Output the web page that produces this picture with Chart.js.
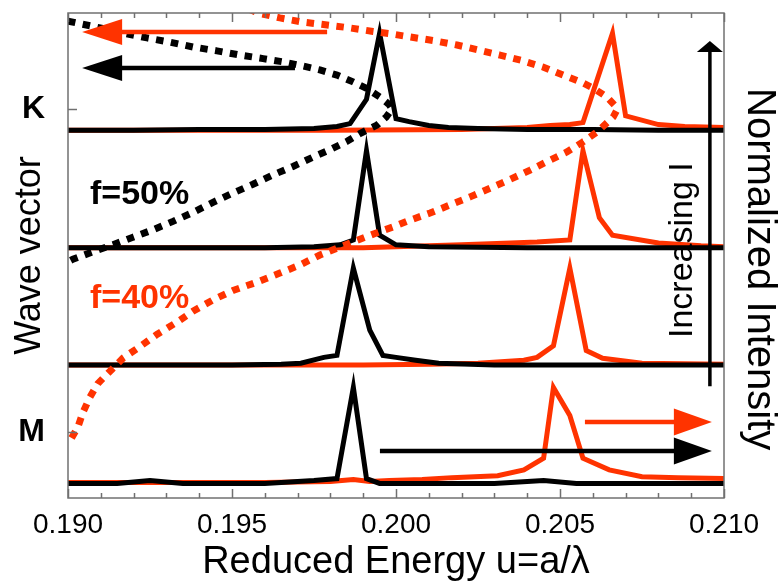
<!DOCTYPE html>
<html><head><meta charset="utf-8">
<script src="https://cdn.jsdelivr.net/npm/chart.js@4.4.1/dist/chart.umd.min.js"></script>
<style>html,body{margin:0;padding:0;background:#fff}#wrap{width:780px;height:581px}</style>
</head><body><div id="wrap"><canvas id="c" width="780" height="581"></canvas></div>
<script>
const FONT = "'Liberation Sans', Arial, Helvetica, sans-serif";
const RED = 'rgb(255,51,0)';

// x axis
const xMin = 0.190, xMax = 0.210, xMajorStep = 0.005, xMinorStep = 0.001;
// wave-vector axis ticks
const kTickValues = [0, 1];
const kTickLabels = ['M', 'K'];

// vertical offset of each spectrum (bottom M panel -> top K panel)
const panelNames = ['M', 'P3', 'P2', 'K'];
const panelOffsets = [0.15, 1.37, 2.58, 3.79];

// Spectra: [reduced energy, normalized intensity]
const blackK = [[0.1900,0.00],[0.1920,0.00],[0.1940,0.01],[0.1960,0.01],[0.1975,0.02],[0.1982,0.04],[0.1986,0.07],[0.1991,0.32],[0.1995,1.00],[0.2000,0.12],[0.2004,0.09],[0.2010,0.05],[0.2016,0.03],[0.2025,0.02],[0.2040,0.01],[0.2060,0.01],[0.2080,0.00],[0.2100,0.00]];
const redK = [[0.1900,0.00],[0.1980,0.00],[0.2020,0.01],[0.2040,0.03],[0.2047,0.05],[0.2053,0.06],[0.2057,0.08],[0.2066,1.00],[0.2070,0.15],[0.2080,0.06],[0.2088,0.04],[0.2100,0.03]];
const blackP2 = [[0.1900,0.00],[0.1960,0.00],[0.1975,0.01],[0.1983,0.03],[0.1987,0.08],[0.1991,1.00],[0.1995,0.13],[0.2000,0.03],[0.2010,0.01],[0.2040,0.00],[0.2100,0.00]];
const redP2 = [[0.1900,0.00],[0.1990,0.00],[0.2000,0.01],[0.2020,0.03],[0.2035,0.05],[0.2043,0.06],[0.2053,0.08],[0.2057,1.00],[0.2062,0.31],[0.2066,0.13],[0.2080,0.05],[0.2093,0.02],[0.2100,0.01]];
const blackP3 = [[0.1900,0.00],[0.1950,0.00],[0.1965,0.01],[0.1971,0.02],[0.1978,0.08],[0.1982,0.10],[0.1987,1.00],[0.1992,0.36],[0.1996,0.10],[0.2000,0.08],[0.2006,0.05],[0.2013,0.02],[0.2030,0.00],[0.2100,0.00]];
const redP3 = [[0.1900,0.00],[0.1990,0.00],[0.2010,0.01],[0.2025,0.02],[0.2039,0.05],[0.2043,0.08],[0.2048,0.20],[0.2053,1.00],[0.2058,0.15],[0.2063,0.07],[0.2075,0.02],[0.2100,0.01]];
const blackM = [[0.1900,0.00],[0.1915,0.00],[0.1925,0.03],[0.1935,0.00],[0.1960,0.00],[0.1975,0.03],[0.1982,0.05],[0.1987,0.99],[0.1991,0.05],[0.1995,0.00],[0.2010,0.00],[0.2030,0.00],[0.2045,0.03],[0.2055,0.00],[0.2100,0.00]];
const redM = [[0.1900,0.01],[0.1960,0.01],[0.1980,0.02],[0.1987,0.04],[0.1992,0.02],[0.1998,0.03],[0.2008,0.04],[0.2017,0.06],[0.2031,0.08],[0.2039,0.14],[0.2045,0.26],[0.2048,0.99],[0.2053,0.70],[0.2057,0.26],[0.2065,0.14],[0.2075,0.07],[0.2086,0.06],[0.2100,0.05]];

// Dispersion (band) curves: [reduced energy, wave vector (M=0, K=1)]
const band50 = [[0.19000,1.272],[0.19098,1.251],[0.19168,1.235],[0.19241,1.220],[0.19311,1.207],[0.19381,1.192],[0.19454,1.180],[0.19524,1.167],[0.19595,1.156],[0.19655,1.146],[0.19713,1.134],[0.19768,1.121],[0.19820,1.105],[0.19869,1.084],[0.19912,1.063],[0.19951,1.037],[0.19978,1.015],[0.19988,1.000],[0.19970,0.975],[0.19942,0.950],[0.19890,0.924],[0.19851,0.900],[0.19799,0.874],[0.19747,0.851],[0.19686,0.822],[0.19625,0.796],[0.19564,0.767],[0.19503,0.740],[0.19442,0.711],[0.19381,0.680],[0.19320,0.652],[0.19259,0.626],[0.19198,0.603],[0.19137,0.580],[0.19076,0.558],[0.19015,0.535],[0.19000,0.527]];
const band40 = [[0.19550,1.310],[0.19579,1.297],[0.19646,1.282],[0.19716,1.269],[0.19790,1.260],[0.19860,1.251],[0.19930,1.240],[0.19982,1.233],[0.20043,1.223],[0.20113,1.212],[0.20186,1.198],[0.20250,1.183],[0.20317,1.167],[0.20384,1.150],[0.20448,1.130],[0.20509,1.105],[0.20567,1.082],[0.20601,1.065],[0.20643,1.037],[0.20668,1.010],[0.20675,1.000],[0.20662,0.975],[0.20646,0.960],[0.20613,0.929],[0.20570,0.898],[0.20521,0.867],[0.20470,0.842],[0.20409,0.811],[0.20348,0.782],[0.20287,0.755],[0.20226,0.728],[0.20165,0.703],[0.20104,0.678],[0.20043,0.656],[0.19991,0.635],[0.19942,0.617],[0.19860,0.585],[0.19768,0.548],[0.19707,0.517],[0.19646,0.492],[0.19576,0.464],[0.19503,0.438],[0.19442,0.409],[0.19381,0.374],[0.19332,0.340],[0.19271,0.302],[0.19220,0.265],[0.19168,0.229],[0.19128,0.188],[0.19091,0.150],[0.19067,0.108],[0.19046,0.062],[0.19030,0.015],[0.19010,-0.020]];

// Annotations (energy, wave-vector coordinates)
const arrows = [
  {from:[0.19790,1.2385], to:[0.19043,1.2385], color:RED, w:4.5, head:40, half:13},
  {from:[0.19692,1.127],  to:[0.19043,1.127],  color:'#000', w:4.5, head:40, half:13},
  {from:[0.20576,0.031],  to:[0.20963,0.031],  color:RED, w:4.5, head:38, half:13.5},
  {from:[0.19951,-0.059], to:[0.20963,-0.059], color:'#000', w:4.5, head:38, half:13.5},
  {from:[0.20957,0.142],  to:[0.20957,1.2105], color:'#000', w:3.5, head:11, half:13}
];
const labels = [
  {text:'f=50%', at:[0.19067,0.706], color:'#000', size:34, bold:true, rot:0, align:'left', base:'alphabetic'},
  {text:'f=40%', at:[0.19067,0.384], color:RED, size:34, bold:true, rot:0, align:'left', base:'alphabetic'},
  {text:'Increasing I', at:[0.20875,0.563], color:'#000', size:34, bold:false, rot:-Math.PI/2, align:'center', base:'middle'}
];
const rightTitle = {text:'Normalized Intensity', size:40, x:748, y:88};

const pts = (arr, off) => arr.map(p => ({x:p[0], y:p[1] + off}));
const kpts = arr => arr.map(p => ({x:p[0], y:p[1]}));

const blacks = [blackM, blackP3, blackP2, blackK];
const reds = [redM, redP3, redP2, redK];
const datasets = [
  {label:'f=40% band', data:kpts(band40), yAxisID:'yk', borderColor:RED, borderWidth:7, borderDash:[7.5,7.5], borderCapStyle:'butt', showLine:true, pointRadius:0, tension:0},
  {label:'f=50% band', data:kpts(band50), yAxisID:'yk', borderColor:'#000', borderWidth:7, borderDash:[7.5,7.5], borderCapStyle:'butt', showLine:true, pointRadius:0, tension:0}
];
blacks.forEach((s,i) => datasets.push({label:'f=50% '+panelNames[i], data:pts(s, panelOffsets[i]), yAxisID:'y', borderColor:'#000', borderWidth:5, showLine:true, pointRadius:0, tension:0}));
reds.forEach((s,i) => datasets.push({label:'f=40% '+panelNames[i], data:pts(s, panelOffsets[i]), yAxisID:'y', borderColor:RED, borderWidth:5, showLine:true, pointRadius:0, tension:0}));

const decor = {
  id:'decor',
  afterDatasetsDraw(chart){
    const ctx = chart.ctx, a = chart.chartArea, xs = chart.scales.x, ks = chart.scales.yk;
    ctx.save();
    arrows.forEach(ar => {
      const x1 = xs.getPixelForValue(ar.from[0]), y1 = ks.getPixelForValue(ar.from[1]);
      const x2 = xs.getPixelForValue(ar.to[0]), y2 = ks.getPixelForValue(ar.to[1]);
      const ang = Math.atan2(y2-y1, x2-x1);
      const bx = x2 - ar.head*Math.cos(ang), by = y2 - ar.head*Math.sin(ang);
      ctx.strokeStyle = ar.color; ctx.fillStyle = ar.color; ctx.lineWidth = ar.w; ctx.lineCap='butt';
      ctx.beginPath(); ctx.moveTo(x1,y1); ctx.lineTo(bx+Math.cos(ang)*2, by+Math.sin(ang)*2); ctx.stroke();
      ctx.beginPath(); ctx.moveTo(x2,y2);
      ctx.lineTo(bx - ar.half*Math.sin(ang), by + ar.half*Math.cos(ang));
      ctx.lineTo(bx + ar.half*Math.sin(ang), by - ar.half*Math.cos(ang));
      ctx.closePath(); ctx.fill();
    });
    labels.forEach(l => {
      const x = xs.getPixelForValue(l.at[0]), y = ks.getPixelForValue(l.at[1]);
      ctx.save(); ctx.translate(x,y); ctx.rotate(l.rot);
      ctx.font = (l.bold?'bold ':'') + l.size + 'px ' + FONT;
      ctx.fillStyle = l.color; ctx.textAlign = l.align; ctx.textBaseline = l.base;
      ctx.fillText(l.text, 0, 0);
      ctx.restore();
    });
    // right axis title
    ctx.save(); ctx.translate(rightTitle.x, rightTitle.y); ctx.rotate(Math.PI/2);
    ctx.font = rightTitle.size + 'px ' + FONT; ctx.fillStyle = '#000';
    ctx.textAlign = 'left'; ctx.textBaseline = 'alphabetic';
    ctx.fillText(rightTitle.text, 0, 0);
    ctx.restore();
    // frame and ticks
    ctx.strokeStyle = '#707070'; ctx.lineWidth = 1.5;
    ctx.strokeRect(a.left, a.top, a.right-a.left, a.bottom-a.top);
    const n = Math.round((xMax-xMin)/xMinorStep);
    const every = Math.round(xMajorStep/xMinorStep);
    for (let i=0;i<=n;i++){
      const v = xMin + i*xMinorStep;
      const px = Math.round(xs.getPixelForValue(v))+0.5;
      const len = (i % every === 0) ? 9 : 5;
      ctx.beginPath();
      ctx.moveTo(px, a.bottom); ctx.lineTo(px, a.bottom-len);
      ctx.moveTo(px, a.top); ctx.lineTo(px, a.top+len);
      ctx.stroke();
    }
    kTickValues.forEach(v => {
      const py = Math.round(ks.getPixelForValue(v))+0.5;
      ctx.beginPath(); ctx.moveTo(a.left, py); ctx.lineTo(a.left+9, py); ctx.stroke();
    });
    ctx.restore();
  }
};

function fixV(w){ return s => { s.width = w; s.paddingTop = 0; s.paddingBottom = 0; }; }

new Chart(document.getElementById('c'), {
  type:'scatter',
  data:{datasets},
  plugins:[decor],
  options:{
    responsive:false, animation:false, devicePixelRatio:1,
    layout:{padding:{top:13, left:0, right:0, bottom:0}},
    plugins:{legend:{display:false}, tooltip:{enabled:false}},
    elements:{point:{radius:0}, line:{tension:0, borderJoinStyle:'miter'}},
    scales:{
      x:{type:'linear', position:'bottom', min:xMin, max:xMax,
        grid:{display:false, drawTicks:false}, border:{display:false},
        ticks:{stepSize:xMajorStep, callback:v=>v.toFixed(3), font:{family:FONT, size:28}, color:'#000', padding:10, maxRotation:0, autoSkip:false},
        title:{display:true, text:'Reduced Energy u=a/λ', font:{family:FONT, size:38, lineHeight:1}, color:'#000', padding:{top:0,bottom:-1}},
        afterFit(s){ s.height = 83; s.paddingLeft = 0; s.paddingRight = 0; }
      },
      yk:{type:'linear', position:'left', min:-0.2043, max:1.2972,
        afterBuildTicks(s){ s.ticks = kTickValues.map(v=>({value:v})); },
        ticks:{callback:(v)=>{const i=kTickValues.indexOf(v); return i>=0?kTickLabels[i]:'';}, font:{family:FONT, size:32, weight:'bold'}, color:'#000', padding:23},
        grid:{display:false, drawTicks:false}, border:{display:false},
        title:{display:true, text:'Wave vector', font:{family:FONT, size:36, lineHeight:1}, color:'#000', padding:{top:12,bottom:0}},
        afterFit: fixV(68)
      },
      y:{type:'linear', position:'right', min:0, max:5,
        ticks:{display:false}, grid:{display:false, drawTicks:false}, border:{display:false},
        afterFit: fixV(56)
      }
    }
  }
});
</script></body></html>
